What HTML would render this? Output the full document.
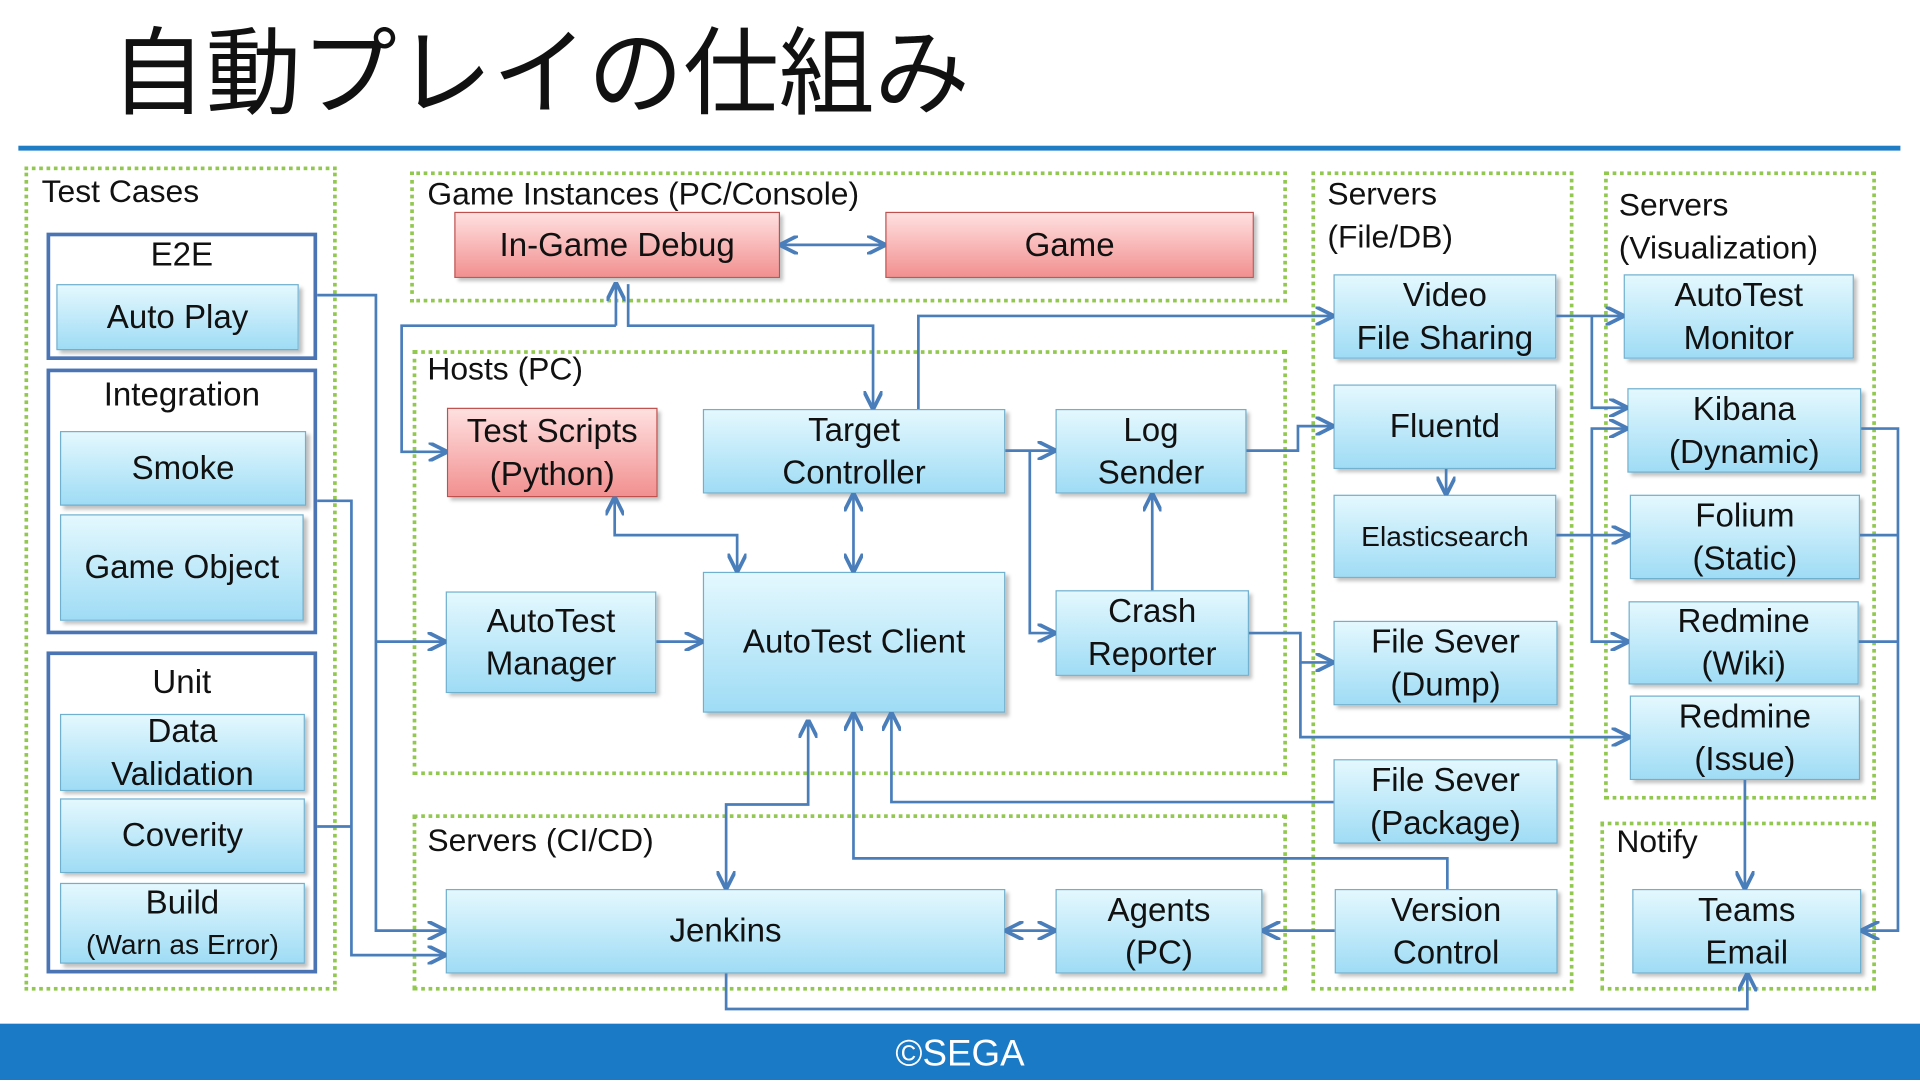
<!DOCTYPE html>
<html><head><meta charset="utf-8">
<style>
html,body{margin:0;padding:0;width:1920px;height:1080px;overflow:hidden;background:#fff;}
#s{position:absolute;left:0;top:0;width:1568px;height:882px;transform:scale(1.2244898);transform-origin:0 0;font-family:"Liberation Sans","Noto Sans CJK JP",sans-serif;color:#111;}
.g{position:absolute;border:3px dotted #92c84f;box-sizing:border-box;}
.bb{position:absolute;border:3px solid #4a74b4;box-sizing:border-box;background:#fff;}
.lbl{position:absolute;font-size:26px;line-height:35px;white-space:nowrap;}
.c,.r{position:absolute;box-sizing:border-box;display:flex;align-items:center;justify-content:center;text-align:center;font-size:27px;line-height:35px;box-shadow:3px 3px 3px rgba(0,0,0,0.25);}
.c{background:linear-gradient(#e4f8fe,#9fdcf5);border:1px solid #6fb0cf;}
.r{background:linear-gradient(#ffe0e0,#f29090);border:1px solid #c0504d;}
</style></head><body>
<div id="s">
<div style="position:absolute;left:90px;top:4px;font-size:78px;line-height:100px;font-family:'Noto Sans CJK JP',sans-serif;">自動プレイの仕組み</div>
<div style="position:absolute;left:15px;top:119px;width:1537px;height:4px;background:#1f7dc6;"></div>
<div style="position:absolute;left:0;top:836px;width:1568px;height:46px;background:#1a7ac6;color:#fff;font-size:30px;line-height:50px;text-align:center;">©SEGA</div>

<div class="g" style="left:20px;top:136px;width:255px;height:673px;"></div>
<div class="g" style="left:335px;top:140px;width:716px;height:107px;"></div>
<div class="g" style="left:337px;top:286px;width:714px;height:347px;"></div>
<div class="g" style="left:337px;top:665px;width:714px;height:144px;"></div>
<div class="g" style="left:1071px;top:140px;width:214px;height:669px;"></div>
<div class="g" style="left:1310px;top:140px;width:222px;height:513px;"></div>
<div class="g" style="left:1307px;top:671px;width:225px;height:138px;"></div>

<div class="lbl" style="left:34px;top:139px;">Test Cases</div>
<div class="lbl" style="left:349px;top:141px;">Game Instances (PC/Console)</div>
<div class="lbl" style="left:349px;top:284px;">Hosts (PC)</div>
<div class="lbl" style="left:349px;top:669px;">Servers (CI/CD)</div>
<div class="lbl" style="left:1084px;top:141px;">Servers<br>(File/DB)</div>
<div class="lbl" style="left:1322px;top:150px;">Servers<br>(Visualization)</div>
<div class="lbl" style="left:1320px;top:670px;">Notify</div>

<div class="bb" style="left:38px;top:190px;width:221px;height:104px;"></div>
<div class="bb" style="left:38px;top:301px;width:221px;height:217px;"></div>
<div class="bb" style="left:38px;top:532px;width:221px;height:263px;"></div>
<div class="lbl" style="left:38px;top:191px;width:221px;text-align:center;font-size:27px;">E2E</div>
<div class="lbl" style="left:38px;top:305px;width:221px;text-align:center;font-size:27px;">Integration</div>
<div class="lbl" style="left:38px;top:540px;width:221px;text-align:center;font-size:27px;">Unit</div>

<div class="c" style="left:46px;top:232px;width:198px;height:54px;">Auto Play</div>
<div class="c" style="left:49px;top:352px;width:201px;height:61px;">Smoke</div>
<div class="c" style="left:49px;top:420px;width:199px;height:87px;">Game Object</div>
<div class="c" style="left:49px;top:583px;width:200px;height:63px;">Data<br>Validation</div>
<div class="c" style="left:49px;top:652px;width:200px;height:61px;">Coverity</div>
<div class="c" style="left:49px;top:721px;width:200px;height:66px;line-height:33px;"><div>Build<br><span style="font-size:23px;">(Warn as Error)</span></div></div>

<div class="r" style="left:371px;top:173px;width:266px;height:54px;">In-Game Debug</div>
<div class="r" style="left:723px;top:173px;width:301px;height:54px;">Game</div>
<div class="r" style="left:365px;top:333px;width:172px;height:73px;">Test Scripts<br>(Python)</div>
<div class="c" style="left:574px;top:334px;width:247px;height:69px;">Target<br>Controller</div>
<div class="c" style="left:862px;top:334px;width:156px;height:69px;">Log<br>Sender</div>
<div class="c" style="left:364px;top:483px;width:172px;height:83px;">AutoTest<br>Manager</div>
<div class="c" style="left:574px;top:467px;width:247px;height:115px;">AutoTest Client</div>
<div class="c" style="left:862px;top:482px;width:158px;height:70px;">Crash<br>Reporter</div>
<div class="c" style="left:364px;top:726px;width:457px;height:69px;">Jenkins</div>
<div class="c" style="left:862px;top:726px;width:169px;height:69px;">Agents<br>(PC)</div>
<div class="c" style="left:1089px;top:224px;width:182px;height:69px;">Video<br>File Sharing</div>
<div class="c" style="left:1089px;top:314px;width:182px;height:69px;">Fluentd</div>
<div class="c" style="left:1089px;top:404px;width:182px;height:68px;font-size:23px;">Elasticsearch</div>
<div class="c" style="left:1089px;top:507px;width:183px;height:69px;">File Sever<br>(Dump)</div>
<div class="c" style="left:1089px;top:620px;width:183px;height:69px;">File Sever<br>(Package)</div>
<div class="c" style="left:1090px;top:726px;width:182px;height:69px;">Version<br>Control</div>
<div class="c" style="left:1326px;top:224px;width:188px;height:69px;">AutoTest<br>Monitor</div>
<div class="c" style="left:1329px;top:317px;width:191px;height:69px;">Kibana<br>(Dynamic)</div>
<div class="c" style="left:1331px;top:404px;width:188px;height:69px;">Folium<br>(Static)</div>
<div class="c" style="left:1330px;top:491px;width:188px;height:68px;">Redmine<br>(Wiki)</div>
<div class="c" style="left:1331px;top:568px;width:188px;height:69px;">Redmine<br>(Issue)</div>
<div class="c" style="left:1333px;top:726px;width:187px;height:69px;">Teams<br>Email</div>

<svg width="1568" height="882" style="position:absolute;left:0;top:0;" fill="none" stroke="#4a7ebb" stroke-width="2.2">
<defs><marker id="a" viewBox="0 0 10 10" refX="9" refY="5" markerWidth="7" markerHeight="7" orient="auto-start-reverse"><path d="M0,0 L10,5 L0,10" fill="none" stroke="#4a7ebb" stroke-width="2"/></marker></defs>
<g marker-end="url(#a)">
<polyline points="259,241 307,241 307,760 363,760"/>
<polyline points="307,524 363,524"/>
<polyline points="259,409 287,409 287,780 363,780"/>
<polyline points="503,266 328,266 328,369 364,369"/>
<polyline points="503,266 503,232"/>
<polyline points="513,232 513,266 713,266 713,333"/>
<polyline points="750,334 750,258 1088,258"/>
<polyline points="821,368 861,368"/>
<polyline points="841,368 841,517 861,517"/>
<polyline points="941,482 941,404"/>
<polyline points="1018,368 1060,368 1060,348 1088,348"/>
<polyline points="1181,383 1181,403"/>
<polyline points="1020,517 1062,517 1062,541 1088,541"/>
<polyline points="1062,541 1062,602 1330,602"/>
<polyline points="536,524 573,524"/>
<polyline points="1089,655 728,655 728,583"/>
<polyline points="1182,726 1182,701 697,701 697,583"/>
<polyline points="1090,760 1032,760"/>
<polyline points="593,795 593,824 1427,824 1427,796"/>
<polyline points="1271,258 1325,258"/>
<polyline points="1300,258 1300,333 1328,333"/>
<polyline points="1271,437 1330,437"/>
<polyline points="1300,437 1300,350 1328,350"/>
<polyline points="1300,437 1300,524 1329,524"/>
<polyline points="1425,637 1425,725"/>
<polyline points="1520,350 1550,350 1550,760 1521,760"/>
</g>
<polyline points="259,675 287,675"/>
<polyline points="1519,437 1550,437"/>
<polyline points="1518,524 1550,524"/>
<g marker-start="url(#a)" marker-end="url(#a)">
<line x1="638" y1="200" x2="722" y2="200"/>
<line x1="697" y1="404" x2="697" y2="466"/>
<polyline points="502,407 502,437 602,437 602,466"/>
<polyline points="593,725 593,657 660,657 660,589"/>
<line x1="822" y1="760" x2="861" y2="760"/>
</g>
</svg>
</div>
</body></html>
